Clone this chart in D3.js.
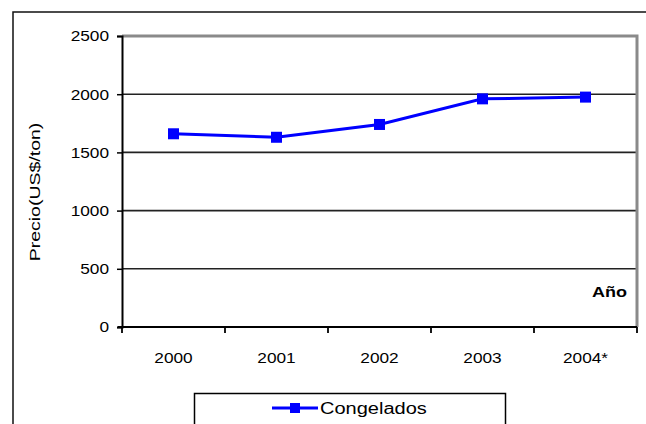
<!DOCTYPE html>
<html><head><meta charset="utf-8">
<script src="https://cdn.jsdelivr.net/npm/d3@7"></script>
<style>html,body{margin:0;padding:0;background:#fff;overflow:hidden}</style>
</head><body>
<svg id="c" width="646" height="424"></svg>
<script>
const years = ["2000", "2001", "2002", "2003", "2004*"];
const congelados = [1660, 1630, 1740, 1960, 1975];
const yTicks = [0, 500, 1000, 1500, 2000, 2500];
const seriesName = "Congelados";
const yLabel = "Precio(US$/ton)";
const xLabel = "Año";

const svg = d3.select("#c");
const font = "Liberation Sans, Arial, sans-serif";
const L = 122, R = 637, T = 36, B = 327;

function stretch(sel, k) {
  sel.each(function() {
    const w = this.getComputedTextLength();
    this.setAttribute("textLength", w * k);
    this.setAttribute("lengthAdjust", "spacingAndGlyphs");
  });
}

// outer border
svg.append("rect").attr("x", 13).attr("y", 12).attr("width", 700).attr("height", 500)
  .attr("fill", "none").attr("stroke", "#111").attr("stroke-width", 1.5);

const x = d3.scaleBand().domain(years).range([L, R]);
const y = d3.scaleLinear().domain([0, 2500]).range([B, T]);

// gridlines
svg.append("g").selectAll("line").data(yTicks.filter(d => d > 0 && d < 2500)).join("line")
  .attr("x1", L).attr("x2", R).attr("y1", d => y(d)).attr("y2", d => y(d))
  .attr("stroke", "#222").attr("stroke-width", 1.6);

// plot frame (gray top/right)
svg.append("path").attr("d", `M${L},${y(2500)}H${R}V${B}`)
  .attr("fill", "none").attr("stroke", "#8a8a8a").attr("stroke-width", 3);

// y axis
const yAxis = svg.append("g").attr("transform", `translate(${L},0)`)
  .call(d3.axisLeft(y).tickValues(yTicks).tickSize(5).tickPadding(8).tickFormat(d3.format("d")));
yAxis.select(".domain").attr("stroke", "#000").attr("stroke-width", 2);
yAxis.selectAll(".tick line").attr("stroke", "#000").attr("stroke-width", 1.5);
yAxis.selectAll("text").attr("font-family", font).attr("font-size", 15).attr("fill", "#000")
  .call(stretch, 1.15);

// x axis
const xAxis = svg.append("g").attr("transform", `translate(0,${B})`)
  .call(d3.axisBottom(x).tickSize(0).tickPadding(25));
xAxis.select(".domain").remove();
xAxis.append("line").attr("x1", L - 4).attr("x2", R).attr("stroke", "#000").attr("stroke-width", 2.2);
xAxis.selectAll(".tk").data(d3.range(years.length + 1)).join("line").attr("class", "tk")
  .attr("x1", i => L + i * x.step()).attr("x2", i => L + i * x.step())
  .attr("y1", 0).attr("y2", 6).attr("stroke", "#000").attr("stroke-width", 1.8);
xAxis.selectAll(".tick text").attr("font-family", font).attr("font-size", 15).attr("fill", "#000")
  .call(stretch, 1.15);

// line
const cx = d => x(d) + x.bandwidth() / 2;
svg.append("path").datum(years.map((d, i) => [cx(d), y(congelados[i])]))
  .attr("d", d3.line()).attr("fill", "none").attr("stroke", "#0000ff").attr("stroke-width", 3);
svg.append("g").selectAll("rect").data(years).join("rect")
  .attr("x", d => cx(d) - 5.5).attr("y", (d, i) => y(congelados[i]) - 5.5)
  .attr("width", 11).attr("height", 11).attr("fill", "#0000ff");

// labels
svg.append("text").attr("transform", "translate(40,192) rotate(-90)")
  .attr("text-anchor", "middle").attr("font-family", font).attr("font-size", 15)
  .attr("fill", "#000").text(yLabel).call(stretch, 1.3);
svg.append("text").attr("x", 627).attr("y", 297).attr("text-anchor", "end")
  .attr("font-family", font).attr("font-size", 15).attr("font-weight", "bold")
  .attr("fill", "#000").text(xLabel).call(stretch, 1.2);

// legend
const lg = svg.append("g");
lg.append("rect").attr("x", 194.5).attr("y", 393.5).attr("width", 311).attr("height", 40)
  .attr("fill", "#fff").attr("stroke", "#000").attr("stroke-width", 1.5);
lg.append("line").attr("x1", 272).attr("x2", 318).attr("y1", 408).attr("y2", 408)
  .attr("stroke", "#0000ff").attr("stroke-width", 3);
lg.append("rect").attr("x", 290).attr("y", 403).attr("width", 10).attr("height", 10).attr("fill", "#0000ff");
lg.append("text").attr("x", 320).attr("y", 414).attr("font-family", font).attr("font-size", 16)
  .attr("fill", "#000").text(seriesName).call(stretch, 1.25);
</script>
</body></html>
